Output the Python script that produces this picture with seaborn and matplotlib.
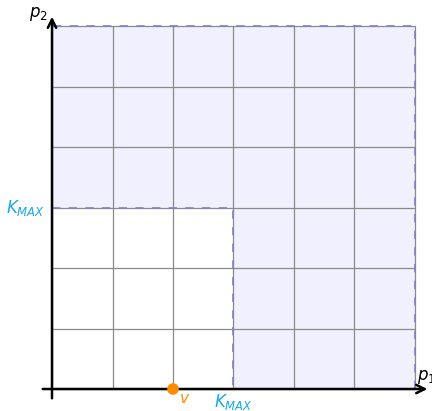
import matplotlib
matplotlib.use("Agg")
import matplotlib.pyplot as plt
import seaborn as sns
import pandas as pd
import numpy as np

# data
grid_ticks = [0, 1, 2, 3, 4, 5, 6]
k_max = 3
v_value = 2
region_x = [3, 6, 6, 0, 0, 3]
region_y = [0, 0, 6, 6, 3, 3]

sns.set_theme(style="white")
plt.rcParams['font.family'] = ['DejaVu Sans']

fig = plt.figure(figsize=(4.32, 4.11), dpi=100)
ax = fig.add_axes([0, 0, 1, 1])

# shaded region
ax.fill(region_x, region_y, color="#f0f0fe", zorder=1, lw=0)

# grid
for t in grid_ticks:
    ax.plot([t, t], [0, 6], color="#8a8a8a", lw=0.9, zorder=2)
    ax.plot([0, 6], [t, t], color="#8a8a8a", lw=0.9, zorder=2)

# dashed border
ax.plot([6, 6, 0], [0, 6, 6], color="#8080cc", lw=1.2, ls=(0, (5, 5)), zorder=3)
ax.plot([0, 3, 3], [3, 3, 0], color="#8080cc", lw=1.2, ls=(0, (5, 5)), zorder=3)

# axes with arrows
ax.annotate("", xy=(6.25, 0), xytext=(-0.2, 0),
            arrowprops=dict(arrowstyle="->", color="black", lw=1.8, mutation_scale=15), zorder=5)
ax.annotate("", xy=(0, 6.2), xytext=(0, -0.2),
            arrowprops=dict(arrowstyle="->", color="black", lw=1.8, mutation_scale=15), zorder=5)

# point v
pt = pd.DataFrame({"x": [v_value], "y": [0]})
sns.scatterplot(data=pt, x="x", y="y", ax=ax, color="#ff8c00", s=70, edgecolor="none", zorder=6, legend=False)
ax.set_xlim(-52/60.5, (432-52)/60.5)
ax.set_ylim(-22/60.5, 389/60.5)
ax.axis('off')

kcol = "#1aa7e8"
ax.text(v_value + 0.1, -0.15, "$v$", color="#ff8c00", fontsize=11, ha="left", va="center")
ax.text(k_max, -0.22, "$K_{MAX}$", color=kcol, fontsize=12, ha="center", va="center")
ax.text(-0.43, k_max, "$K_{MAX}$", color=kcol, fontsize=12, ha="center", va="center")
ax.text(-0.23, 6.2, "$p_2$", color="black", fontsize=12, ha="center", va="center")
ax.text(6.04, 0.2, "$p_1$", color="black", fontsize=12, ha="left", va="center")

fig.savefig("out.png", dpi=100)
